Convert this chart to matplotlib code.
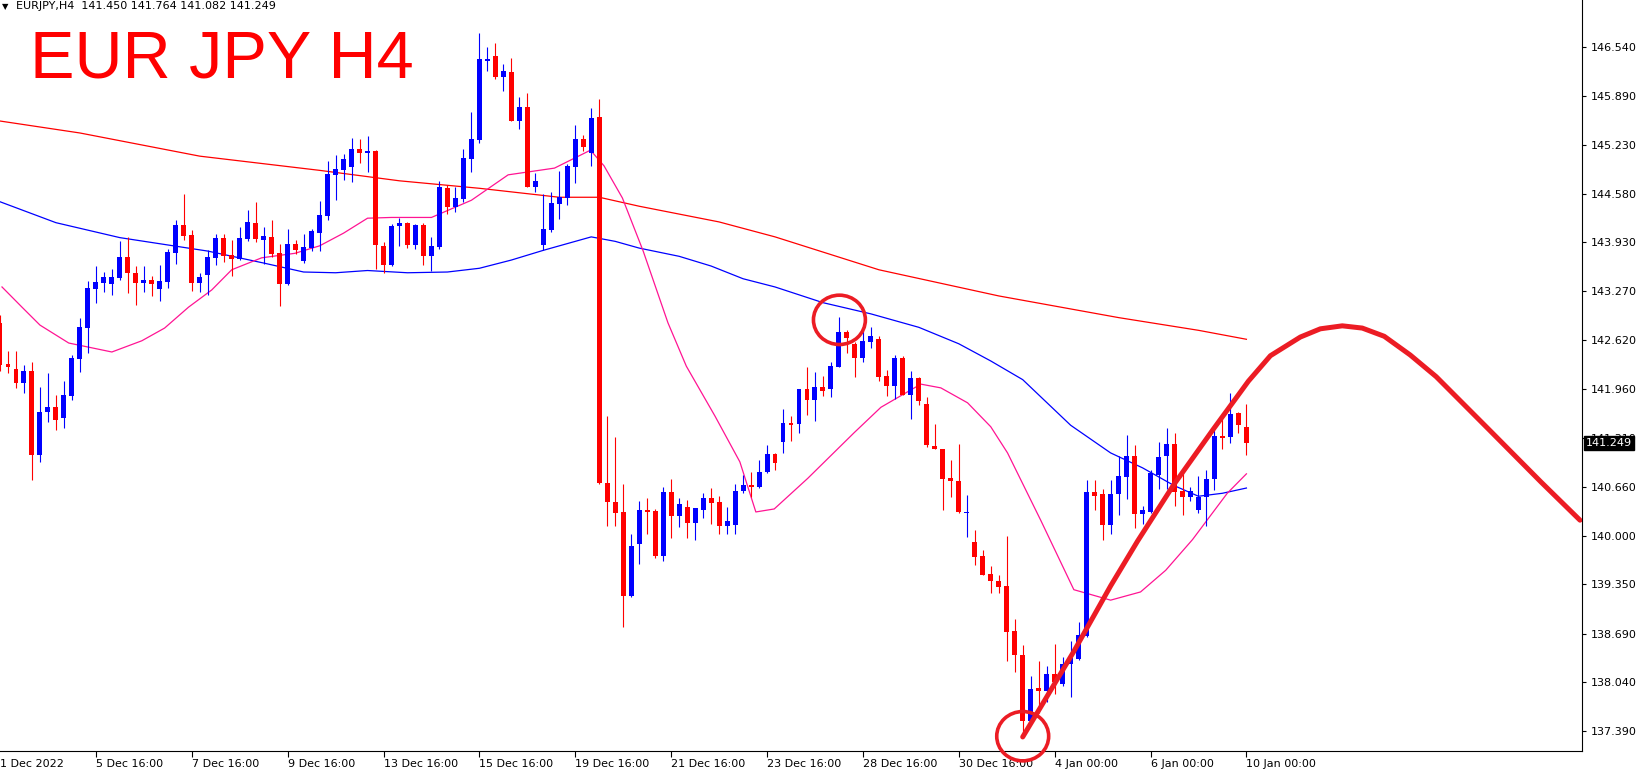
import matplotlib
matplotlib.use('Agg')
import matplotlib.pyplot as plt
from matplotlib.patches import Ellipse
import matplotlib.transforms as mtransforms

# ---------------- data (EURJPY H4 candles) ----------------
opens = [142.85, 142.30, 142.23, 142.05, 142.21, 141.08, 141.66, 141.72, 141.58, 141.87,
         142.37, 142.78, 143.30, 143.38, 143.37, 143.45, 143.73, 143.52, 143.38, 143.42,
         143.30, 143.40, 143.78, 144.16, 144.03, 143.38, 143.49, 143.72, 143.99, 143.76,
         143.70, 143.97, 144.19, 143.96, 144.00, 143.78, 143.37, 143.90, 143.68, 143.85,
         144.05, 144.28, 144.83, 144.90, 144.94, 145.18, 145.12, 145.15, 143.88, 143.62,
         144.15, 144.19, 143.89, 144.16, 143.75, 143.86, 144.65, 144.40, 144.51, 145.04,
         145.30, 146.35, 146.42, 146.14, 146.21, 145.55, 145.74, 144.67, 143.89, 144.09,
         144.44, 144.52, 144.94, 145.31, 145.12, 145.60, 140.71, 140.45, 140.32, 139.20,
         139.89, 140.35, 140.33, 139.73, 140.59, 140.27, 140.39, 140.17, 140.35, 140.51,
         140.45, 140.13, 140.14, 140.60, 140.68, 140.65, 140.85, 141.10, 141.26, 141.51,
         141.49, 141.97, 141.82, 141.99, 141.97, 142.26, 142.73, 142.57, 142.38, 142.60,
         142.63, 142.14, 142.01, 142.38, 141.89, 142.11, 141.77, 141.20, 141.16, 140.77,
         140.73, 140.31, 139.92, 139.73, 139.49, 139.40, 139.33, 138.73, 138.41, 137.53,
         137.97, 137.92, 138.15, 138.02, 138.28, 138.35, 138.66, 140.59, 140.56, 140.15,
         140.56, 140.79, 141.07, 140.29, 140.32, 140.81, 141.07, 141.23, 140.60, 140.52,
         140.35, 140.52, 140.76, 141.34, 141.32, 141.64, 141.450]
highs = [142.95, 142.47, 142.47, 142.29, 142.33, 141.99, 142.18, 141.88, 142.07, 142.42,
         142.92, 143.41, 143.61, 143.53, 143.57, 143.95, 144.00, 143.61, 143.61, 143.48,
         143.62, 143.84, 144.23, 144.57, 144.09, 143.52, 143.82, 144.04, 144.04, 143.96,
         144.13, 144.36, 144.47, 144.13, 144.23, 143.90, 144.10, 143.96, 144.04, 144.10,
         144.48, 145.02, 145.10, 145.11, 145.32, 145.31, 145.35, 145.16, 143.93, 144.17,
         144.25, 144.20, 144.17, 144.18, 144.00, 144.75, 144.69, 144.67, 145.18, 145.67,
         146.73, 146.54, 146.59, 146.31, 146.39, 145.87, 145.93, 144.85, 144.57, 144.60,
         144.88, 144.98, 145.50, 145.36, 145.72, 145.84, 141.61, 141.32, 140.70, 140.02,
         140.47, 140.50, 140.36, 140.65, 140.76, 140.50, 140.48, 140.37, 140.58, 140.64,
         140.53, 140.39, 140.69, 140.81, 140.85, 141.02, 141.21, 141.11, 141.70, 141.60,
         141.97, 142.26, 142.19, 142.14, 142.32, 142.93, 142.75, 142.60, 142.74, 142.80,
         142.67, 142.22, 142.42, 142.41, 142.20, 142.12, 141.86, 141.50, 141.16, 141.01,
         141.23, 140.55, 140.08, 139.81, 139.60, 139.48, 140.00, 138.89, 138.54, 138.12,
         138.33, 138.26, 138.55, 138.38, 138.59, 138.85, 140.75, 140.75, 140.63, 140.75,
         141.07, 141.35, 141.22, 140.40, 140.88, 141.26, 141.44, 141.38, 140.84, 140.65,
         140.80, 140.88, 141.44, 141.64, 141.91, 141.66, 141.764]
lows = [142.20, 142.18, 141.98, 141.91, 140.75, 140.99, 141.52, 141.42, 141.44, 141.82,
        142.19, 142.45, 143.12, 143.26, 143.22, 143.42, 143.25, 143.09, 143.26, 143.21,
        143.14, 143.32, 143.64, 143.96, 143.28, 143.26, 143.22, 143.62, 143.66, 143.48,
        143.69, 143.95, 143.93, 143.64, 143.73, 143.08, 143.36, 143.77, 143.65, 143.81,
        143.81, 144.23, 144.49, 144.76, 144.73, 144.99, 144.87, 143.57, 143.52, 143.61,
        143.88, 143.85, 143.84, 143.62, 143.55, 143.84, 144.31, 144.33, 144.47, 144.87,
        145.26, 146.22, 146.11, 145.95, 145.55, 145.44, 144.67, 144.60, 143.82, 144.07,
        144.24, 144.43, 144.72, 145.15, 144.95, 140.70, 140.13, 140.13, 138.78, 139.18,
        139.62, 140.03, 139.70, 139.67, 139.97, 140.12, 139.97, 139.94, 140.24, 140.16,
        140.03, 140.02, 140.02, 140.57, 140.52, 140.64, 140.84, 140.88, 141.11, 141.27,
        141.37, 141.62, 141.54, 141.87, 141.86, 142.26, 142.44, 142.13, 142.32, 142.52,
        142.07, 141.87, 141.83, 141.88, 141.56, 141.75, 141.19, 141.16, 140.35, 140.52,
        140.30, 139.98, 139.61, 139.48, 139.23, 139.23, 138.33, 138.18, 137.34, 137.49,
        137.63, 137.78, 137.89, 137.99, 137.85, 138.34, 138.65, 140.34, 139.94, 140.03,
        140.28, 140.49, 140.11, 140.16, 140.31, 140.63, 140.63, 140.40, 140.28, 140.47,
        140.31, 140.13, 140.62, 141.16, 141.24, 141.37, 141.082]
closes = [142.29, 142.26, 142.05, 142.21, 141.08, 141.66, 141.72, 141.55, 141.88, 142.38,
          142.80, 143.32, 143.40, 143.46, 143.46, 143.73, 143.52, 143.38, 143.42, 143.37,
          143.41, 143.80, 144.16, 144.01, 143.38, 143.46, 143.73, 143.99, 143.74, 143.70,
          143.99, 144.20, 143.97, 144.01, 143.77, 143.37, 143.90, 143.82, 143.86, 144.08,
          144.29, 144.84, 144.91, 145.04, 145.18, 145.12, 145.15, 143.89, 143.62, 144.15,
          144.19, 143.89, 144.16, 143.75, 143.88, 144.67, 144.40, 144.52, 145.06, 145.31,
          146.38, 146.38, 146.14, 146.22, 145.55, 145.74, 144.67, 144.75, 144.10, 144.45,
          144.53, 144.95, 145.31, 145.20, 145.59, 140.71, 140.45, 140.30, 139.20, 139.87,
          140.35, 140.32, 139.73, 140.59, 140.27, 140.43, 140.17, 140.37, 140.51, 140.44,
          140.13, 140.20, 140.60, 140.68, 140.65, 140.85, 141.10, 140.98, 141.51, 141.48,
          141.97, 141.82, 141.99, 141.94, 142.27, 142.73, 142.65, 142.38, 142.61, 142.67,
          142.12, 142.01, 142.38, 141.89, 142.11, 141.81, 141.21, 141.16, 140.76, 140.73,
          140.32, 140.32, 139.72, 139.48, 139.39, 139.32, 138.72, 138.41, 137.53, 137.95,
          137.92, 138.15, 138.04, 138.29, 138.36, 138.67, 140.59, 140.54, 140.15, 140.56,
          140.80, 141.07, 140.29, 140.35, 140.84, 141.06, 141.23, 140.59, 140.52, 140.60,
          140.52, 140.76, 141.34, 141.31, 141.63, 141.48, 141.249]

x_tick_idx = [0, 12, 24, 36, 48, 60, 72, 84, 96, 108, 120, 132, 144, 156]
x_tick_labels = ['1 Dec 2022', '5 Dec 16:00', '7 Dec 16:00', '9 Dec 16:00', '13 Dec 16:00',
                 '15 Dec 16:00', '19 Dec 16:00', '21 Dec 16:00', '23 Dec 16:00',
                 '28 Dec 16:00', '30 Dec 16:00', '4 Jan 00:00', '6 Jan 00:00', '10 Jan 00:00']
y_ticks = [146.540, 145.890, 145.230, 144.580, 143.930, 143.270, 142.620, 141.960,
           141.310, 140.660, 140.000, 139.350, 138.690, 138.040, 137.390]

# moving averages sampled along the bars
ma_red_idx = [0, 10, 25, 40, 50, 60, 70, 75, 80, 90, 97, 110, 125, 140, 150, 156]
ma_red_val = [145.55, 145.39, 145.08, 144.89, 144.75, 144.65, 144.53, 144.53, 144.41,
              144.20, 144.00, 143.56, 143.21, 142.92, 142.75, 142.63]
ma_blue_idx = [0, 7, 15, 26, 33, 38, 42, 46, 51, 56, 60, 64, 68, 74, 77, 80, 85, 89, 93,
               97, 103, 109, 115, 120, 124, 128, 134, 139, 143, 147, 150, 153, 156]
ma_blue_val = [144.47, 144.19, 143.99, 143.81, 143.65, 143.53, 143.52, 143.55, 143.52,
               143.53, 143.58, 143.69, 143.82, 144.00, 143.94, 143.85, 143.74, 143.61,
               143.44, 143.33, 143.12, 142.97, 142.79, 142.57, 142.34, 142.09, 141.48,
               141.11, 140.91, 140.67, 140.53, 140.57, 140.64]
ma_pink_idx = [0.25, 2.75, 5, 8.6, 14, 17.75, 20.6, 23.6, 26.5, 29, 32.75, 36.9, 40, 43,
               46, 49, 54, 59, 63.6, 69.4, 73.9, 75.6, 77.9, 80.5, 83.6, 85.9, 89.5, 92.6,
               94.6, 96.9, 101.1, 106.9, 110.25, 115.25, 117.75, 121.1, 124, 126.1,
               130.25, 134.4, 139, 142.75, 145.9, 149.25, 153.6, 156]
ma_pink_val = [143.33, 143.06, 142.82, 142.58, 142.46, 142.61, 142.78, 143.06, 143.29,
               143.56, 143.72, 143.78, 143.88, 144.05, 144.25, 144.26, 144.26, 144.49,
               144.83, 144.92, 145.16, 144.95, 144.52, 143.81, 142.85, 142.27, 141.60,
               140.99, 140.32, 140.36, 140.77, 141.38, 141.72, 142.03, 141.98, 141.78,
               141.46, 141.11, 140.21, 139.28, 139.14, 139.25, 139.54, 139.95, 140.57,
               140.83]

# hand-drawn forecast curve and circles
curve_idx = [128.0, 130.25, 134.375, 139.0, 142.375, 146.875, 151.875, 156.25, 159.0,
             162.75, 165.25, 168.0, 170.5, 173.25, 176.5, 179.75, 186.375, 192.875, 197.75]
curve_val = [137.31, 137.71, 138.45, 139.33, 139.93, 140.68, 141.43, 142.07, 142.41,
             142.66, 142.77, 142.81, 142.78, 142.67, 142.42, 142.13, 141.42, 140.72, 140.21]
circle_idx = [105.06, 128.0]
circle_val = [142.89, 137.32]

last_price = 141.249
header = 'EURJPY,H4  141.450 141.764 141.082 141.249'
title = 'EUR JPY H4'

# ---------------- drawing ----------------
W, H = 1644, 774
fig = plt.figure(figsize=(W / 100, H / 100), dpi=100)
fig.patch.set_facecolor('white')
ax = fig.add_axes([0, 1 - 751 / H, 1582 / W, 751 / H])
ax.set_facecolor('white')

RED = '#FF0000'
BLUE = '#0000FF'
PINK = '#FF1493'
MARK = '#EC1C24'

idx = list(range(len(opens)))
cols = [BLUE if c >= o else RED for o, c in zip(opens, closes)]
bottoms = [min(o, c) for o, c in zip(opens, closes)]
heights = [max(abs(c - o), 0.014) for o, c in zip(opens, closes)]

ax.plot(ma_red_idx, ma_red_val, color=RED, lw=0.9, zorder=1)
ax.plot(ma_blue_idx, ma_blue_val, color=BLUE, lw=0.9, zorder=1)
ax.plot(ma_pink_idx, ma_pink_val, color=PINK, lw=0.9, zorder=1)

ax.vlines(idx, lows, highs, colors=cols, linewidth=0.8, zorder=2)
ax.bar(idx, heights, bottom=bottoms, width=0.62, color=cols, linewidth=0, zorder=3)

ax.plot(curve_idx, curve_val, color=MARK, lw=3.6, solid_capstyle='round', zorder=6)
for ci, cv in zip(circle_idx, circle_val):
    ax.add_patch(Ellipse((ci, cv), width=6.5, height=0.66, fill=False,
                         edgecolor=MARK, lw=2.6, zorder=6, clip_on=False))

ax.set_xlim(0.25, 198.0)
ax.set_ylim(137.122, 147.169)

for s in ['top', 'left']:
    ax.spines[s].set_visible(False)
for s in ['right', 'bottom']:
    ax.spines[s].set_color('black')
    ax.spines[s].set_linewidth(0.8)

ax.yaxis.tick_right()
ax.set_yticks(y_ticks)
ax.set_yticklabels(['%.3f' % v for v in y_ticks])
ax.tick_params(axis='y', direction='out', length=3, width=0.8, pad=3, labelsize=8,
               colors='black')

ax.set_xticks(x_tick_idx)
ax.set_xticklabels(x_tick_labels, ha='left')
ax.tick_params(axis='x', direction='out', length=4, width=0.8, pad=1.5, labelsize=8,
               colors='black')
ax.xaxis.get_major_ticks()[0].tick1line.set_visible(False)

# current price box
trans = mtransforms.blended_transform_factory(ax.transAxes, ax.transData)
ax.text(1.0 + 4 / 1582, last_price, '%.3f' % last_price, transform=trans, ha='left',
        va='center', fontsize=8, color='white', zorder=10, clip_on=False,
        bbox=dict(boxstyle='square,pad=0.18', facecolor='black', edgecolor='black'))

fig.text(2 / W, 1 - 2 / H, '\u25bc', fontsize=6, va='top', ha='left', color='black')
fig.text(16 / W, 1 - 1 / H, header, fontsize=8, va='top', ha='left', color='black')
fig.text(30 / W, 1 - 77 / H, title, fontsize=48, va='baseline', ha='left', color=RED,
         family=['Liberation Sans', 'DejaVu Sans'])

fig.savefig('out.png', dpi=100, facecolor='white')
